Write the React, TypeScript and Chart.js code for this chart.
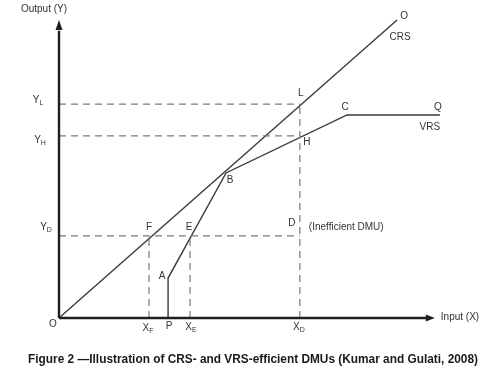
import React, { useEffect, useRef } from "react";
import { Chart, registerables } from "chart.js";

Chart.register(...registerables);

// ---- data (input X, output Y) ----
const X_MAX = 12;
const Y_MAX = 8.5;

const pointO = [0, 0];
const crsEnd = [9.39, 8.28];
const pointP = [3.03, 0];
const pointA = [3.03, 1.11];
const pointB = [4.64, 4.03];
const pointC = [8.0, 5.64];
const pointQ = [10.58, 5.64];
const pointL = [6.69, 5.94];
const pointH = [6.69, 5.06];
const pointF = [2.5, 2.28];
const pointE = [3.64, 2.28];
const pointD = [6.69, 2.28];
const xAxisEnd = 10.2;
const xArrowTip = 10.44;
const yAxisEnd = 7.98;
const yArrowTip = 8.28;

const crsLine = [pointO, crsEnd];
const vrsLine = [pointP, pointA, pointB, pointC, pointQ];

const FONT = "Arial, 'Liberation Sans', sans-serif";

type Lbl = { text: string; sub?: string; at: number[]; dx: number; dy: number; align?: CanvasTextAlign };

const labels: Lbl[] = [
  { text: "O", at: crsEnd, dx: 7, dy: -4 },
  { text: "CRS", at: crsEnd, dx: 3, dy: 17 },
  { text: "L", at: pointL, dx: 1, dy: -11 },
  { text: "H", at: pointH, dx: 7, dy: 6 },
  { text: "C", at: pointC, dx: -2, dy: -8 },
  { text: "Q", at: pointQ, dx: -2, dy: -8 },
  { text: "VRS", at: pointQ, dx: -10, dy: 12 },
  { text: "B", at: pointB, dx: 4, dy: 7 },
  { text: "F", at: pointF, dx: 0, dy: -9 },
  { text: "E", at: pointE, dx: -1, dy: -9 },
  { text: "A", at: pointA, dx: -6, dy: -2 },
  { text: "D", at: pointD, dx: -8, dy: -13 },
  { text: "(Inefficient DMU)", at: pointD, dx: 9, dy: -9, align: "left" },
  { text: "O", at: pointO, dx: -6, dy: 6 },
  { text: "X", sub: "F", at: [pointF[0], 0], dx: -1, dy: 10 },
  { text: "P", at: [pointP[0], 0], dx: 1, dy: 8 },
  { text: "X", sub: "E", at: [pointE[0], 0], dx: 1, dy: 9 },
  { text: "X", sub: "D", at: [pointD[0], 0], dx: -1, dy: 9 },
  { text: "Y", sub: "L", at: [0, pointL[1]], dx: -21, dy: -4 },
  { text: "Y", sub: "H", at: [0, pointH[1]], dx: -19, dy: 4 },
  { text: "Y", sub: "D", at: [0, pointD[1]], dx: -13, dy: -9 },
  { text: "Input (X)", at: [xArrowTip, 0], dx: 6, dy: -1, align: "left" },
  { text: "Output (Y)", at: [0, yArrowTip], dx: -15, dy: -11 },
];

const caption = "Figure 2 \u2014Illustration of CRS- and VRS-efficient DMUs (Kumar and Gulati, 2008)";

const toXY = (pts: number[][]) => pts.map((p) => ({ x: p[0], y: p[1] }));

const dashed = (pts: number[][]) => ({
  data: toXY(pts),
  borderColor: "#7a7a7a",
  borderWidth: 1.2,
  borderDash: [7, 5],
  pointRadius: 0,
  clip: false as any,
});

export default function App() {
  const ref = useRef<HTMLCanvasElement>(null);

  useEffect(() => {
    if (!ref.current) return;

    const overlay = {
      id: "overlay",
      afterDatasetsDraw(chart: any) {
        const ctx = chart.ctx as CanvasRenderingContext2D;
        const xs = chart.scales.x;
        const ys = chart.scales.y;
        const px = (v: number) => xs.getPixelForValue(v);
        const py = (v: number) => ys.getPixelForValue(v);
        ctx.save();
        // arrowheads
        ctx.fillStyle = "#1e1e1e";
        const ox = px(0), oy = py(0);
        const tx = px(xArrowTip);
        ctx.beginPath();
        ctx.moveTo(tx, oy);
        ctx.lineTo(tx - 9, oy - 3.5);
        ctx.lineTo(tx - 9, oy + 3.5);
        ctx.closePath();
        ctx.fill();
        const ty = py(yArrowTip);
        ctx.beginPath();
        ctx.moveTo(ox, ty);
        ctx.lineTo(ox - 3.5, ty + 10);
        ctx.lineTo(ox + 3.5, ty + 10);
        ctx.closePath();
        ctx.fill();

        // labels
        ctx.fillStyle = "#333";
        ctx.textBaseline = "middle";
        for (const l of labels) {
          const x = px(l.at[0]) + l.dx;
          const y = py(l.at[1]) + l.dy;
          ctx.font = `10px ${FONT}`;
          const align = l.align || "center";
          if (l.sub) {
            const mw = ctx.measureText(l.text).width;
            ctx.font = `7px ${FONT}`;
            const sw = ctx.measureText(l.sub).width;
            const total = mw + sw;
            const startX = align === "left" ? x : x - total / 2;
            ctx.textAlign = "left";
            ctx.font = `10px ${FONT}`;
            ctx.fillText(l.text, startX, y);
            ctx.font = `7px ${FONT}`;
            ctx.fillText(l.sub, startX + mw, y + 3);
          } else {
            ctx.textAlign = align;
            ctx.fillText(l.text, x, y);
          }
        }

        // caption
        ctx.font = `bold 12px ${FONT}`;
        ctx.fillStyle = "#1a1a1a";
        const w = ctx.measureText(caption).width;
        const target = 450;
        ctx.translate(28, 360);
        ctx.scale(target / w, 1);
        ctx.textAlign = "left";
        ctx.fillText(caption, 0, 0);
        ctx.restore();
      },
    };

    const chart = new Chart(ref.current, {
      type: "line",
      data: {
        datasets: [
          {
            data: toXY([pointO, [xAxisEnd, 0]]),
            borderColor: "#1e1e1e",
            borderWidth: 2.4,
            pointRadius: 0,
            clip: false as any,
          },
          {
            data: toXY([pointO, [0, yAxisEnd]]),
            borderColor: "#1e1e1e",
            borderWidth: 2.4,
            pointRadius: 0,
            clip: false as any,
          },
          dashed([[0, pointL[1]], pointL]),
          dashed([[0, pointH[1]], pointH]),
          dashed([[0, pointD[1]], pointD]),
          dashed([[pointD[0], 0], pointL]),
          dashed([[pointF[0], 0], pointF]),
          dashed([[pointE[0], 0], pointE]),
          {
            data: toXY(crsLine),
            borderColor: "#3a3a3a",
            borderWidth: 1.4,
            pointRadius: 0,
            clip: false as any,
          },
          {
            data: toXY(vrsLine),
            borderColor: "#3a3a3a",
            borderWidth: 1.4,
            pointRadius: 0,
            clip: false as any,
          },
        ],
      },
      options: {
        responsive: false,
        animation: false,
        devicePixelRatio: 1,
        layout: {
          padding: { left: 59, right: 501 - 59 - X_MAX * 36, top: 318 - Y_MAX * 36, bottom: 371 - 318 },
        },
        scales: {
          x: { type: "linear", min: 0, max: X_MAX, display: false },
          y: { type: "linear", min: 0, max: Y_MAX, display: false },
        },
        plugins: { legend: { display: false }, tooltip: { enabled: false }, title: { display: false } },
        elements: { line: { tension: 0 } },
      },
      plugins: [overlay],
    });
    return () => chart.destroy();
  }, []);

  return (
    <div style={{ position: "fixed", left: 0, top: 0, width: 501, height: 371, background: "#fff" }}>
      <canvas ref={ref} width={501} height={371} style={{ width: 501, height: 371, display: "block" }} />
    </div>
  );
}
